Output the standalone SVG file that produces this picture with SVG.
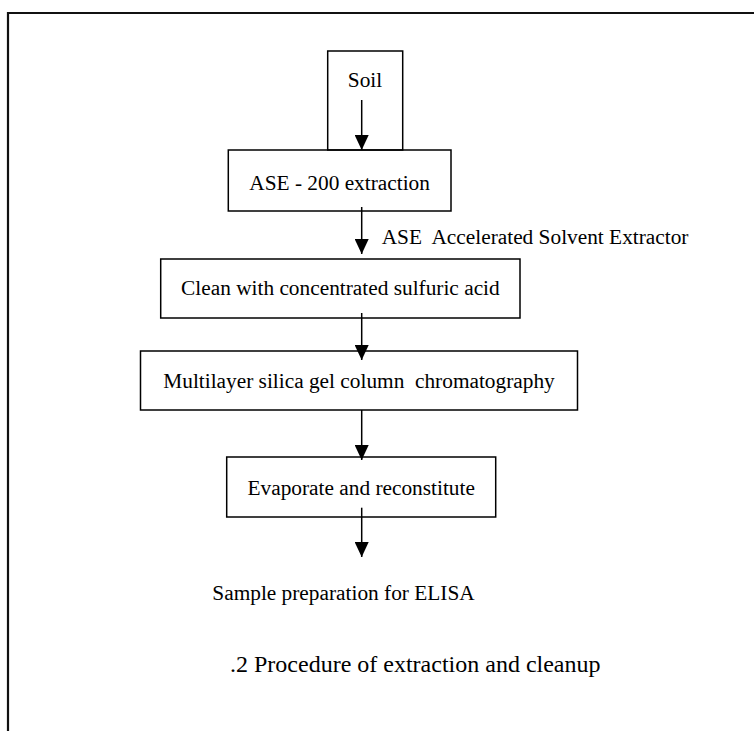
<svg xmlns="http://www.w3.org/2000/svg" width="754" height="731" viewBox="0 0 754 731">
<style>
.box{fill:none;stroke:#000;stroke-width:1.5}
.t{font-family:"Liberation Serif","Times New Roman",serif;font-size:21.33px;fill:#000}
.c{text-anchor:middle}
.con{stroke:#000;stroke-width:1.5;fill:none;marker-end:url(#ah)}
.frame{stroke:#111;stroke-width:2.2;fill:none}
</style>
<defs>
<marker id="ah" markerUnits="userSpaceOnUse" markerWidth="15" markerHeight="14" refX="15" refY="7" orient="auto">
<path d="M0,0 L15,7 L0,14 z" fill="#000"/>
</marker>
</defs>
<rect width="754" height="731" fill="#fff"/>
<path class="frame" d="M754,13 L8,13 L8,731"/>
<g id="soil">
<rect class="box" x="327.7" y="51" width="75" height="99"/>
<text class="t c" x="365" y="86.5">Soil</text>
</g>
<g id="ase">
<rect class="box" x="228.3" y="150" width="222.7" height="61"/>
<text class="t c" x="339.6" y="190">ASE - 200 extraction</text>
</g>
<g id="clean">
<rect class="box" x="160.7" y="259" width="359.3" height="59"/>
<text class="t c" x="340.4" y="295">Clean with concentrated sulfuric acid</text>
</g>
<g id="multilayer">
<rect class="box" x="140.5" y="351" width="437" height="59"/>
<text class="t c" x="359" y="388" xml:space="preserve">Multilayer silica gel column  chromatography</text>
</g>
<g id="evaporate">
<rect class="box" x="226.7" y="457" width="269" height="60"/>
<text class="t c" x="361.2" y="495">Evaporate and reconstitute</text>
</g>
<g id="sample">
<text class="t" x="212.3" y="600">Sample preparation for ELISA</text>
</g>
<g id="caption">
<text class="t" x="230" y="671.5" style="font-size:24px">.2 Procedure of extraction and cleanup</text>
</g>
<g id="connectors">
<line class="con" x1="361.7" y1="100" x2="361.7" y2="150"/>
<line class="con" x1="361.7" y1="207" x2="361.7" y2="254"/>
<line class="con" x1="361.7" y1="313" x2="361.7" y2="360"/>
<line class="con" x1="361.7" y1="410" x2="361.7" y2="460"/>
<line class="con" x1="361.7" y1="507.7" x2="361.7" y2="557"/>
<text class="t" x="381.7" y="243.5" xml:space="preserve">ASE  Accelerated Solvent Extractor</text>
</g>
</svg>
